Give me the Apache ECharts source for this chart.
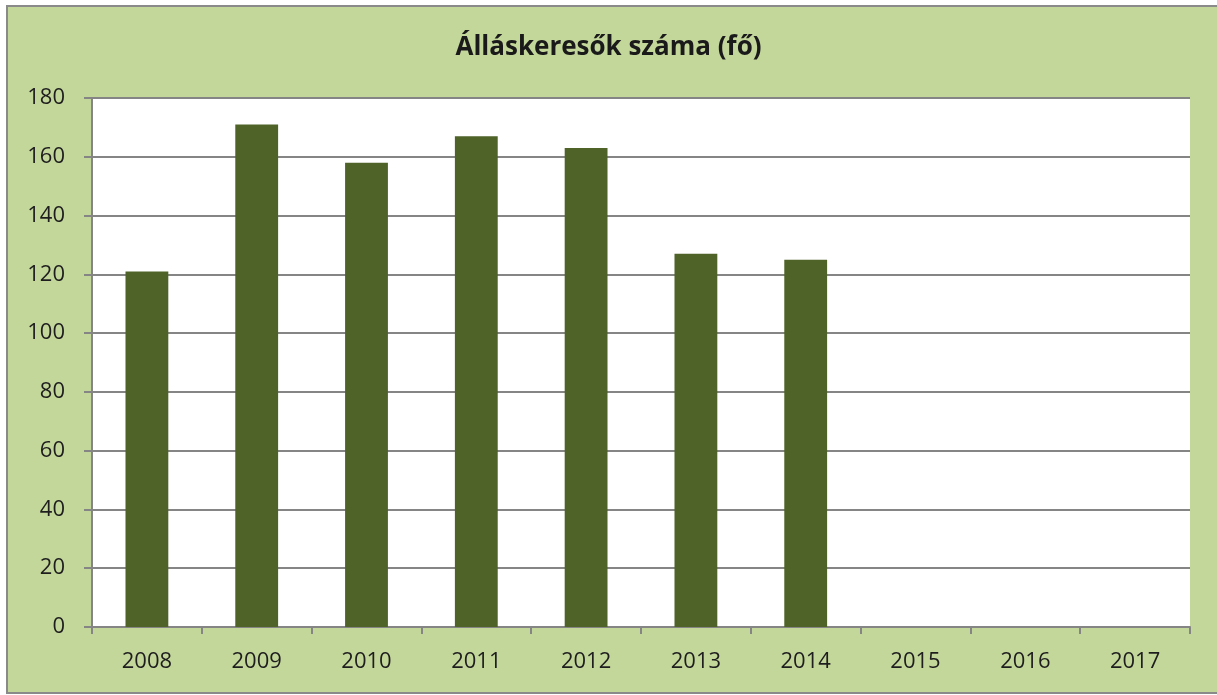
<!DOCTYPE html>
<html>
<head>
<meta charset="utf-8">
<title>Álláskeresők száma (fő)</title>
<script src="https://cdn.jsdelivr.net/npm/echarts@6/dist/echarts.min.js"></script>
<style>
html, body { margin: 0; padding: 0; background: #fff; }
#chart { width: 1217px; height: 695px; }
</style>
</head>
<body>
<div id="chart"></div>
<script>
// data
var years = ['2008', '2009', '2010', '2011', '2012', '2013', '2014', '2015', '2016', '2017'];
var seekers = [121, 171, 158, 167, 163, 127, 125, null, null, null];
var yTicks = { min: 0, max: 180, step: 20 };
var chartTitle = 'Álláskeresők száma (fő)';

var myChart = echarts.init(document.getElementById('chart'));
var option = {
    backgroundColor: '#fff',
    animation: false,
    graphic: [
        {
            type: 'rect',
            z: -10,
            shape: { x: 7, y: 6, width: 1220, height: 687 },
            style: { fill: '#c4d79b', stroke: '#8a8a8a', lineWidth: 2 }
        }
    ],
    title: {
        text: chartTitle,
        left: 'center',
        top: 30,
        textStyle: {
            fontFamily: 'Open Sans',
            fontWeight: 'bold',
            fontSize: 26,
            color: '#1a1a1a'
        }
    },
    grid: {
        left: 92,
        right: 27,
        top: 98,
        bottom: 68,
        show: true,
        backgroundColor: '#fff',
        borderWidth: 0
    },
    xAxis: {
        type: 'category',
        data: years,
        axisLine: { lineStyle: { color: '#858585', width: 2 } },
        axisTick: { show: true, length: 7, lineStyle: { color: '#858585', width: 2 } },
        axisLabel: {
            margin: 24,
            fontFamily: 'Open Sans',
            fontSize: 22,
            color: '#1e1e1e'
        }
    },
    yAxis: {
        type: 'value',
        min: yTicks.min,
        max: yTicks.max,
        interval: yTicks.step,
        axisLine: { show: true, lineStyle: { color: '#858585', width: 2 } },
        axisTick: { show: true, length: 8, lineStyle: { color: '#858585', width: 2 } },
        axisLabel: {
            margin: 27,
            fontFamily: 'Open Sans',
            fontSize: 22,
            color: '#1e1e1e'
        },
        splitLine: { lineStyle: { color: '#858585', width: 2 } }
    },
    series: [
        {
            name: chartTitle,
            type: 'bar',
            data: seekers,
            barWidth: '39%',
            itemStyle: { color: '#4f6228' }
        }
    ]
};
myChart.setOption(option);
</script>
</body>
</html>
